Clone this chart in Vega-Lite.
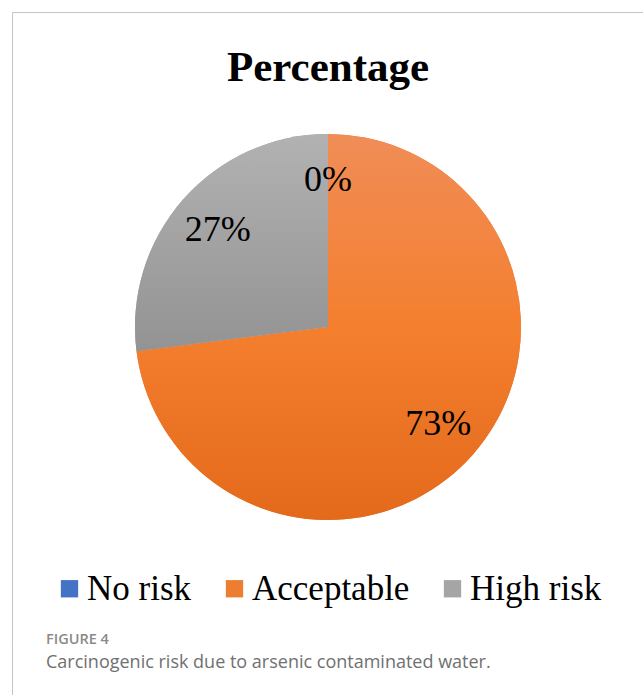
{
  "$schema": "https://vega.github.io/schema/vega-lite/v6.json",
  "background": "white",
  "padding": {"left": 11, "top": 11, "right": 0, "bottom": 0},
  "config": {"view": {"stroke": null}, "concat": {"spacing": 0}},
  "spacing": 0,
  "bounds": "flush",
  "title": {
    "text": "FIGURE 4",
    "subtitle": "Carcinogenic risk due to arsenic contaminated water.",
    "orient": "bottom",
    "anchor": "start",
    "frame": "group",
    "offset": -64,
    "dx": 34,
    "font": "Open Sans",
    "fontSize": 14.5,
    "fontWeight": 600,
    "color": "#8a8a8a",
    "subtitleFont": "Open Sans",
    "subtitleFontSize": 18,
    "subtitleColor": "#707070",
    "subtitlePadding": 7
  },
  "vconcat": [
    {
      "width": 632,
      "height": 630,
      "view": {"stroke": "#c4c4c4", "strokeWidth": 1, "strokeDash": [632, 1262, 630, 1]},
      "title": {
        "text": "Percentage",
        "font": "Liberation Serif",
        "fontSize": 43,
        "fontWeight": "bold",
        "color": "#000000",
        "anchor": "middle",
        "baseline": "alphabetic",
        "offset": -112
      },
      "data": {
        "values": [
          {"risk": "No risk", "rank": 1, "share": 0.0},
          {"risk": "Acceptable", "rank": 2, "share": 0.73},
          {"risk": "High risk", "rank": 3, "share": 0.27}
        ]
      },
      "encoding": {
        "theta": {"field": "share", "type": "quantitative", "stack": true},
        "order": {"field": "rank", "type": "quantitative"}
      },
      "layer": [
        {
          "mark": {"type": "arc", "outerRadius": 193},
          "encoding": {
            "color": {
              "field": "risk",
              "type": "nominal",
              "scale": {
                "domain": ["No risk", "Acceptable", "High risk"],
                "range": ["#4472C4", "#ED7D31", "#A5A5A5"]
              },
              "legend": {
                "orient": "none",
                "legendX": 40,
                "legendY": 559,
                "direction": "horizontal",
                "columns": 3,
                "title": null,
                "padding": 0,
                "symbolType": "square",
                "symbolSize": 300,
                "symbolStrokeWidth": 0,
                "labelFont": "Liberation Serif",
                "labelFontSize": 35,
                "labelColor": "#000000",
                "labelOffset": 0,
                "labelLimit": 400,
                "columnPadding": 25
              }
            }
          }
        },
        {
          "mark": {"type": "arc", "outerRadius": 193},
          "encoding": {
            "detail": {"field": "risk"},
            "fill": {
              "condition": [
                {
                  "test": "datum.risk === 'Acceptable'",
                  "value": {
                    "gradient": "linear",
                    "x1": 0, "y1": 0, "x2": 0, "y2": 1,
                    "stops": [
                      {"offset": 0, "color": "#F08D57"},
                      {"offset": 0.5, "color": "#F47F2F"},
                      {"offset": 1, "color": "#E36A1A"}
                    ]
                  }
                },
                {
                  "test": "datum.risk === 'High risk'",
                  "value": {
                    "gradient": "linear",
                    "x1": 0, "y1": 0, "x2": 0, "y2": 1,
                    "stops": [
                      {"offset": 0, "color": "#B2B2B2"},
                      {"offset": 1, "color": "#939393"}
                    ]
                  }
                }
              ],
              "value": "#4472C4"
            }
          }
        },
        {
          "mark": {"type": "text", "radius": 147, "font": "Liberation Serif", "fontSize": 36, "color": "#000000"},
          "encoding": {
            "detail": {"field": "risk"},
            "text": {"field": "share", "type": "quantitative", "format": ".0%"}
          }
        }
      ]
    },
    {
      "width": 632,
      "height": 54,
      "view": {"stroke": "#c4c4c4", "strokeWidth": 1, "strokeDash": [0, 1318, 54, 1]},
      "data": {"values": []},
      "mark": "point",
      "encoding": {}
    }
  ]
}
